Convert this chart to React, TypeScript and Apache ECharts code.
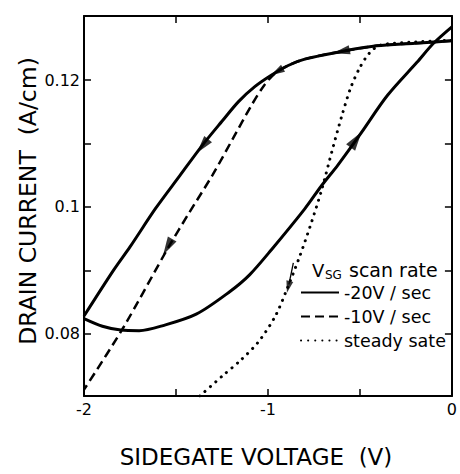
import React, { useEffect, useRef } from 'react';
import * as echarts from 'echarts';

const FONT = 'DejaVu Sans';

// Axis ranges / ticks
const xRange = [-2, 0];
const yRange = [0.0702, 0.1301];
const yTickValues = [0.08, 0.09, 0.1, 0.11, 0.12];
const yLabelValues = [0.08, 0.1, 0.12];

// -20 V/sec loop: branch swept toward negative voltage (upper)
const solidDown: number[][] = [
  [0, 0.1262], [-0.2, 0.1258], [-0.41, 0.1254], [-0.62, 0.1244], [-0.8, 0.1233],
  [-0.89, 0.1223], [-0.98, 0.1208], [-1.07, 0.119], [-1.16, 0.1166], [-1.25, 0.1135],
  [-1.36, 0.1096], [-1.48, 0.1049], [-1.61, 0.0998], [-1.75, 0.0937], [-1.84, 0.09],
  [-2.0, 0.0828],
];
// -20 V/sec loop: branch swept back toward 0 V (lower)
const solidUp: number[][] = [
  [-2.0, 0.0824], [-1.9, 0.0812], [-1.8, 0.0806], [-1.7, 0.0805], [-1.57, 0.0813],
  [-1.39, 0.0831], [-1.21, 0.0866], [-1.1, 0.0893], [-0.98, 0.0933], [-0.8, 0.0997],
  [-0.71, 0.1033], [-0.62, 0.1066], [-0.5, 0.1114], [-0.35, 0.1176], [-0.19, 0.1228],
  [-0.1, 0.1258], [0, 0.1284],
];
// -10 V/sec
const dashed: number[][] = [
  [0, 0.1262], [-0.2, 0.1258], [-0.41, 0.1254], [-0.62, 0.1244], [-0.8, 0.1233],
  [-0.89, 0.1223], [-0.96, 0.1211], [-1.02, 0.1192], [-1.09, 0.116], [-1.19, 0.1108],
  [-1.3, 0.1051], [-1.43, 0.099], [-1.54, 0.0937], [-1.79, 0.0808], [-2.0, 0.0712],
];
// steady state
const dotted: number[][] = [
  [-1.37, 0.0702], [-1.25, 0.0733], [-1.15, 0.0758], [-1.05, 0.0788], [-0.96, 0.0828],
  [-0.9, 0.0868], [-0.83, 0.092], [-0.77, 0.097], [-0.71, 0.1025], [-0.65, 0.109],
  [-0.6, 0.1142], [-0.55, 0.1188], [-0.5, 0.122], [-0.45, 0.1242], [-0.39, 0.1255],
  [-0.2, 0.126], [0, 0.1263],
];
// shaft of the small arrow beside the steady-state curve
const dottedArrowShaft: number[][] = [[-0.862, 0.0912], [-0.886, 0.0878]];

// sweep-direction arrowheads placed on the curves
const arrowPoints: number[][] = [
  [-1.356, 0.1096], [-0.601, 0.1245], [-0.951, 0.1213], [-1.545, 0.0937], [-0.521, 0.1106], [-0.889, 0.0874],
];
const arrowAngles = [141, 102, 120, 150, -35, 166];
const arrowSizes = [[10, 18], [9, 17], [8, 14], [10, 18], [11, 19], [7, 12]];

const legendNames = ['-20V / sec', '-10V / sec', 'steady sate'];

export default function App() {
  const ref = useRef<HTMLDivElement>(null);
  useEffect(() => {
    document.body.style.margin = '0';
    const chart = echarts.init(ref.current!, null, { renderer: 'svg' });
    const axisLine = { show: true, onZero: false, lineStyle: { color: '#000', width: 2 } };
    const tick = { show: true, inside: true, length: 7, lineStyle: { color: '#000', width: 1.5 } };
    const lbl = { color: '#000', fontSize: 16, fontFamily: FONT };
    chart.setOption({
      animation: false,
      backgroundColor: '#fff',
      grid: { left: 84, right: 5, top: 16, bottom: 78 },
      xAxis: [
        {
          type: 'value', min: xRange[0], max: xRange[1], interval: 0.5,
          axisLine, axisTick: tick, splitLine: { show: false },
          axisLabel: { ...lbl, margin: 5, formatter: (v: number) => (Number.isInteger(v) ? String(v) : '') },
        },
        {
          type: 'value', position: 'top', min: xRange[0], max: xRange[1], interval: 0.5,
          axisLine, axisTick: tick, splitLine: { show: false }, axisLabel: { show: false },
        },
      ],
      yAxis: [
        {
          type: 'value', min: yRange[0], max: yRange[1],
          axisLine, axisTick: { ...tick, customValues: yTickValues }, splitLine: { show: false },
          axisLabel: { ...lbl, margin: 4, customValues: yLabelValues },
        },
        {
          type: 'value', position: 'right', min: yRange[0], max: yRange[1],
          axisLine, axisTick: { ...tick, customValues: yTickValues }, splitLine: { show: false },
          axisLabel: { show: false },
        },
      ],
      legend: {
        data: legendNames,
        orient: 'vertical',
        left: 295,
        top: 278,
        itemWidth: 38,
        itemHeight: 14,
        itemGap: 5,
        selectedMode: false,
        itemStyle: { opacity: 0 },
        textStyle: { color: '#000', fontSize: 17.5, fontFamily: FONT, lineHeight: 19 },
      },
      graphic: [
        { type: 'text', x: 256, y: 457, style: { text: 'SIDEGATE VOLTAGE  (V)', fontSize: 23, fontFamily: FONT, fill: '#000', align: 'center', verticalAlign: 'middle' } },
        { type: 'text', x: 28, y: 201, rotation: Math.PI / 2, style: { text: 'DRAIN CURRENT  (A/cm)', fontSize: 23.5, fontFamily: FONT, fill: '#000', align: 'center', verticalAlign: 'middle' } },
        { type: 'text', x: 312, y: 270, style: { text: 'V', fontSize: 18, fontFamily: FONT, fill: '#000', align: 'left', verticalAlign: 'middle' } },
        { type: 'text', x: 325, y: 275, style: { text: 'SG', fontSize: 12, fontFamily: FONT, fill: '#000', align: 'left', verticalAlign: 'middle' } },
        { type: 'text', x: 349, y: 270, style: { text: 'scan rate', fontSize: 19, fontFamily: FONT, fill: '#000', align: 'left', verticalAlign: 'middle' } },
      ],
      series: [
        {
          name: legendNames[2], type: 'line', data: dotted, symbol: 'none', smooth: 0.3,
          itemStyle: { color: '#000' },
          lineStyle: { color: '#000', width: 3, type: [0.1, 7], cap: 'round' },
        },
        {
          name: 'dottedArrow', type: 'line', data: dottedArrowShaft, symbol: 'none', silent: true,
          itemStyle: { color: '#000' },
          lineStyle: { color: '#000', width: 1.3 },
        },
        {
          name: legendNames[1], type: 'line', data: dashed, symbol: 'none', smooth: 0.3,
          itemStyle: { color: '#000' },
          lineStyle: { color: '#000', width: 2.5, type: [9, 5] },
        },
        {
          name: legendNames[0], type: 'line', data: solidDown, symbol: 'none', smooth: 0.3,
          itemStyle: { color: '#000' },
          lineStyle: { color: '#000', width: 3 },
        },
        {
          name: legendNames[0], type: 'line', data: solidUp, symbol: 'none', smooth: 0.3,
          itemStyle: { color: '#000' },
          lineStyle: { color: '#000', width: 3 },
        },
        {
          name: 'arrows', type: 'scatter', symbol: 'triangle', silent: true, z: 5,
          itemStyle: { color: '#000' },
          data: arrowPoints.map((p, i) => ({ value: p, symbolRotate: arrowAngles[i], symbolSize: arrowSizes[i] })),
        },
      ],
    });
    return () => chart.dispose();
  }, []);
  return <div ref={ref} style={{ width: 460, height: 474 }} />;
}
